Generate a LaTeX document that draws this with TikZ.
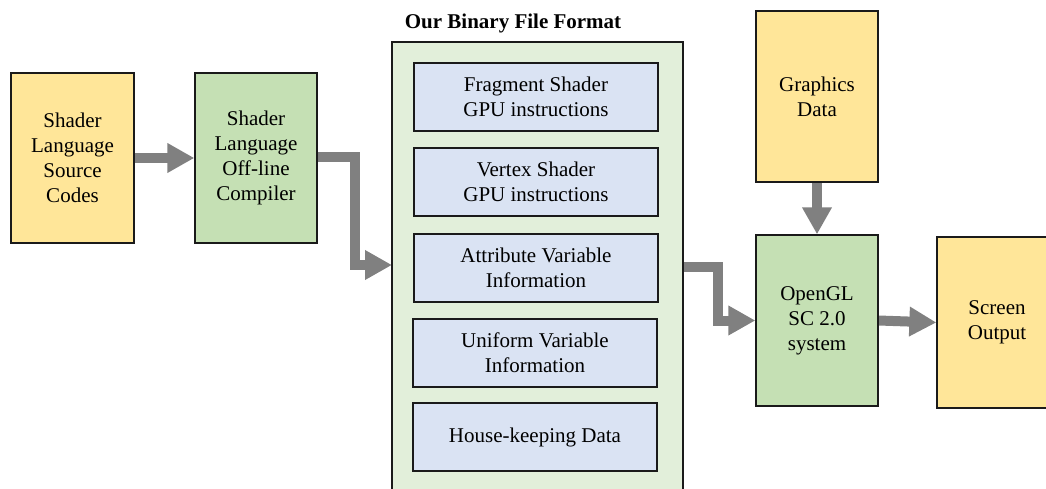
\documentclass[tikz,border=0pt]{standalone}
\usepackage{fontspec}
\setmainfont{Liberation Serif}
\usetikzlibrary{arrows.meta,backgrounds}
\definecolor{yel}{HTML}{FFE699}
\definecolor{grn}{HTML}{C5E0B4}
\definecolor{lgrn}{HTML}{E2EFDA}
\definecolor{blu}{HTML}{DAE3F3}
\definecolor{arrgray}{HTML}{808080}
\definecolor{edge}{HTML}{1A1A1A}
\tikzset{
  box/.style={draw=edge, line width=1.3pt, inner sep=0pt, align=center,
    font=\fontsize{21}{25}\selectfont, minimum width=122pt, minimum height=171pt},
  yelbox/.style={box, fill=yel},
  grnbox/.style={box, fill=grn},
  inbox/.style={box, fill=blu, minimum width=244pt, minimum height=68pt},
  bigbox/.style={draw=edge, line width=1.3pt, fill=lgrn, inner sep=0pt,
    minimum width=291pt, minimum height=470pt},
  arr/.style={draw=arrgray, line width=10pt, line join=miter,
    -{Triangle[length=27pt,width=28pt]}},
}
\begin{document}
\begin{tikzpicture}[x=1pt,y=-1pt]
\useasboundingbox (0,0) rectangle (1046,489);
% left chain
\node[yelbox, minimum width=123pt, minimum height=170pt] (src) at (72.5,158) {Shader\\Language\\Source\\Codes};
\node[grnbox, minimum height=170pt] (comp) at (256,158) {Shader\\Language\\Off-line\\Compiler};
% binary file format container
\node[bigbox] (big) at (537.5,277) {};
\node[font=\fontsize{21}{25}\selectfont\bfseries, anchor=base, inner sep=0pt] (title) at (513,29) {Our Binary File Format};
\node[inbox] (frag) at (536,97) {Fragment Shader\\GPU instructions};
\node[inbox] (vert) at (536,182) {Vertex Shader\\GPU instructions};
\node[inbox] (attr) at (536,268) {Attribute Variable\\Information};
\node[inbox] (unif) at (535,353) {Uniform Variable\\Information};
\node[inbox] (house) at (535,437) {House-keeping Data};
% right side
\node[yelbox] (gfx) at (817,96.5) {Graphics\\Data};
\node[grnbox] (gl) at (817,320.5) {OpenGL\\SC 2.0\\system};
\node[yelbox, minimum width=120pt] (scr) at (997,322.5) {Screen\\Output};
\coordinate (in1) at (392,265);
\coordinate (out1) at (683,267);
% arrows
\begin{scope}[on background layer]
\draw[arr] (src.east) -- (comp.west);
\draw[arr] (comp.east |- 0,157.5) -| (355,265) -- (in1);
\draw[arr] (out1) -| (718,320.5) -- (gl.west);
\draw[arr] (gfx.south) -- (gl.north);
\draw[arr] (gl.east) -- (scr.west);
\end{scope}
\end{tikzpicture}
\end{document}
